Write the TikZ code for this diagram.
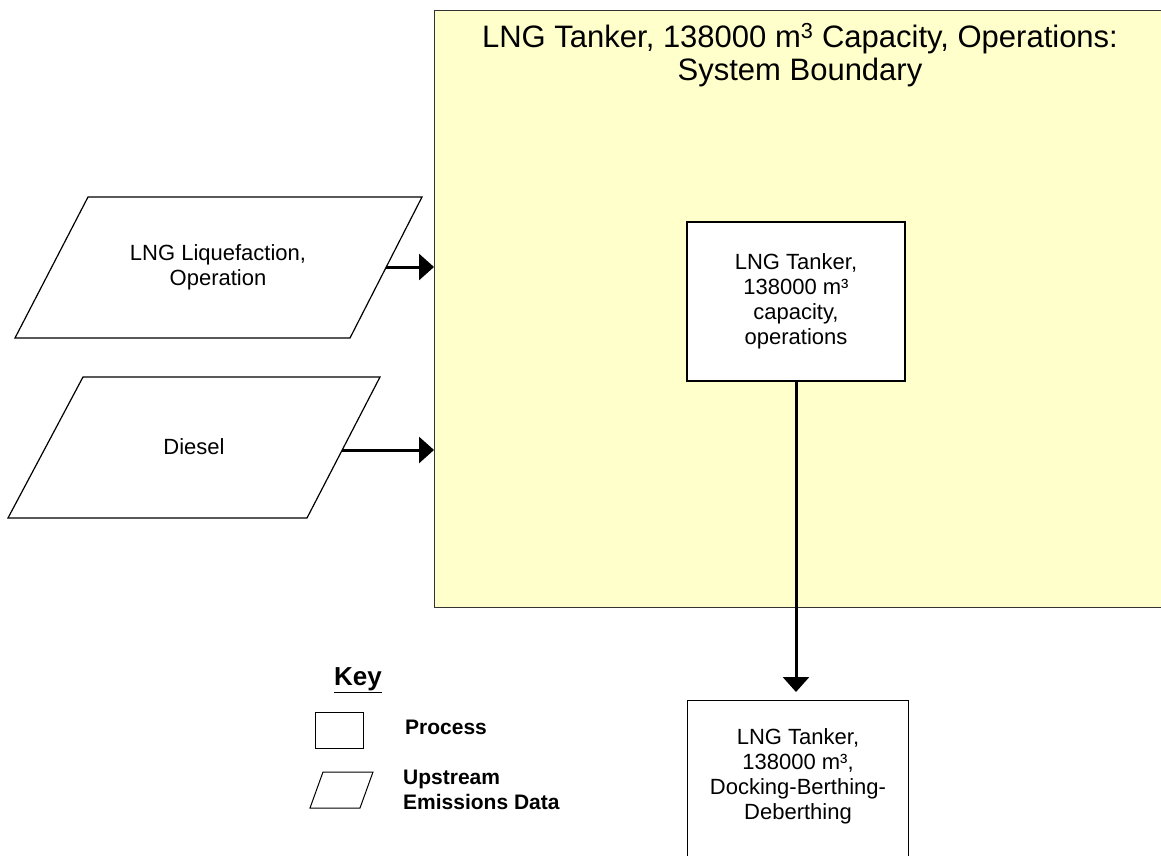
\documentclass[tikz,border=0pt]{standalone}
\usepackage{fontspec}
\setmainfont{Liberation Sans}
\usetikzlibrary{arrows.meta,calc}
\definecolor{bndfill}{HTML}{FFFFCC}
\begin{document}
\begin{tikzpicture}[x=1pt,y=-1pt,
  every node/.style={inner sep=0pt, align=center},
  boundary/.style={draw=black!80, line width=1.4pt, fill=bndfill},
  procbox/.style={draw=black, line width=1.3pt, fill=white},
  upstream/.style={draw=black, line width=1.2pt, fill=white, line join=miter},
  flow/.style={line width=3pt, -{Triangle[length=15pt,width=26pt]}},
  bodytext/.style={font=\fontsize{22}{25}\selectfont},
  titletext/.style={font=\fontsize{31}{33}\selectfont},
  keyhead/.style={font=\fontsize{26}{28}\selectfont\bfseries},
  keytext/.style={font=\fontsize{21}{25}\selectfont\bfseries, align=left, anchor=west}
]
\clip (0,0) rectangle (1161,856);

% system boundary with its heading
\node[boundary, anchor=north west, minimum width=766pt, minimum height=597pt] (bound) at (434,10) {};
\node[titletext] (title) at (800,55) {LNG Tanker, 138000 m\textsuperscript{3} Capacity, Operations:\\System Boundary};

% process inside the boundary
\node[procbox, bodytext, minimum width=218pt, minimum height=159pt] (tanker) at (796,301.5)
  {LNG Tanker,\\138000 m³\\capacity,\\operations};

% downstream process
\node[procbox, minimum width=221pt, minimum height=200pt, anchor=north] (dock) at (798,700) {};
\node[bodytext] (docktext) at (798,776) {LNG Tanker,\\138000 m³,\\Docking-Berthing-\\Deberthing};

% upstream emissions data
\draw[upstream] (88,197) -- (422,197) -- (350,338) -- (15,338) -- cycle;
\node[bodytext] (liq) at (218,267) {LNG Liquefaction,\\Operation};
\coordinate (liqout) at (386,267);

\draw[upstream] (83,377) -- (380,377) -- (307,518) -- (8,518) -- cycle;
\node[bodytext] (diesel) at (194,447) {Diesel};
\coordinate (dieselout) at (342,450);

% flows
\draw[flow] (liqout) -- (liqout -| bound.west);
\draw[flow] (dieselout) -- (dieselout -| bound.west);
\draw[flow, shorten >=8pt] (tanker.south) -- (tanker.south |- dock.north);

% key
\node[keyhead] (keyhead) at (358,680) {\underline{Key}};
\node[procbox, line width=1pt, minimum width=48pt, minimum height=36pt] (keyproc) at (339,730) {};
\node[keytext] (keyproclbl) at (405,727) {Process};
\draw[upstream, line width=1pt] (323,772) -- (373,772) -- (360,808) -- (310,808) -- cycle;
\node[keytext] (keyuplbl) at (403,790) {Upstream\\Emissions Data};
\end{tikzpicture}
\end{document}
